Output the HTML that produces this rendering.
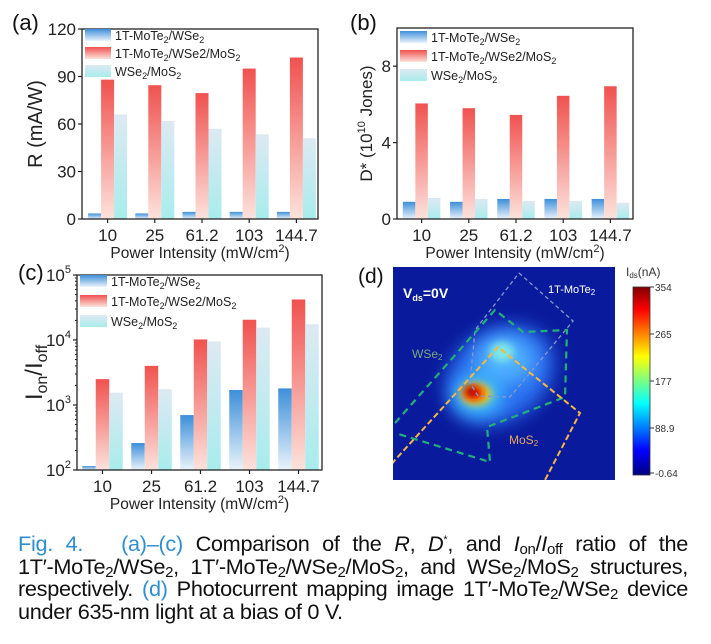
<!DOCTYPE html>
<html><head><meta charset="utf-8"><style>
body{margin:0;background:#fff;width:711px;height:644px;overflow:hidden;font-family:"Liberation Sans",sans-serif}
svg{position:absolute;left:0;top:0}
#cap{position:absolute;left:18px;top:533px;width:670px;font-size:21.7px;line-height:22.6px;color:#111;letter-spacing:-0.3px}
#cap div{text-align:justify;text-align-last:justify;white-space:nowrap;height:22.6px}
#cap div.last{text-align-last:left}
#cap .b{color:#2f8ed0}
#cap sub{font-size:15px;vertical-align:-3px;line-height:0}
</style></head><body>
<svg id="fig" width="711" height="644">
<defs>
<linearGradient id="gBlue" x1="0" y1="0" x2="0" y2="1"><stop offset="0" stop-color="#3d8fd9"/><stop offset="1" stop-color="#eaf3fb"/></linearGradient>
<linearGradient id="gRed" x1="0" y1="0" x2="0" y2="1"><stop offset="0" stop-color="#f0524f"/><stop offset="1" stop-color="#fde2dc"/></linearGradient>
<linearGradient id="gCyan" x1="0" y1="0" x2="0" y2="1"><stop offset="0" stop-color="#dde9f2"/><stop offset="1" stop-color="#a8ecec"/></linearGradient>
<linearGradient id="gCb" x1="0" y1="0" x2="0" y2="1"><stop offset="0" stop-color="#800000"/><stop offset="0.12" stop-color="#ff0000"/><stop offset="0.37" stop-color="#ffff00"/><stop offset="0.62" stop-color="#00ffff"/><stop offset="0.87" stop-color="#0000ff"/><stop offset="1" stop-color="#000080"/></linearGradient>
<filter id="blur" x="-50%" y="-50%" width="200%" height="200%"><feGaussianBlur stdDeviation="9"/></filter>
<filter id="blur2" x="-50%" y="-50%" width="200%" height="200%"><feGaussianBlur stdDeviation="4"/></filter>
<clipPath id="clipD"><rect x="393" y="267" width="222" height="213"/></clipPath>
</defs>
<g id="pa"></g>
<g id="pb"></g>
<g id="pc"></g>
<g id="pd">
<rect x="393" y="267" width="222" height="213" fill="#0a1a9c"/>
<g clip-path="url(#clipD)">
<ellipse cx="500" cy="375" rx="58" ry="45" fill="#2a6ff0" filter="url(#blur)" transform="rotate(-35 500 375)"/>
<ellipse cx="505" cy="360" rx="30" ry="24" fill="#4fb0ff" filter="url(#blur)"/>
<ellipse cx="502" cy="352" rx="12" ry="10" fill="#7fe8e8" filter="url(#blur2)"/>
<ellipse cx="478" cy="395" rx="24" ry="20" fill="#3cc8ff" filter="url(#blur)"/>
<ellipse cx="476" cy="394" rx="15" ry="11" fill="#ffd000" filter="url(#blur2)"/>
<ellipse cx="474" cy="393" rx="10" ry="7" fill="#e81000" filter="url(#blur2)"/>
<ellipse cx="471" cy="391" rx="5" ry="4" fill="#900000" filter="url(#blur2)"/>
<polyline points="519,273 573,321 510,397 478,396 470,383 475,330 519,273" fill="none" stroke="#8899cc" stroke-width="1.3" stroke-dasharray="4,3"/>
<polyline points="395,423 495,310 523,332 567,330 565,397 487,427 490,462 395,433" fill="none" stroke="#22b07a" stroke-width="2.2" stroke-dasharray="7,5"/>
<polyline points="380,478 395,460 498,347 580,413 545,480" fill="none" stroke="#f4b740" stroke-width="2" stroke-dasharray="6,3"/>
</g>
<text x="403" y="298" fill="#fff" font-size="14" font-weight="bold">V<tspan font-size="9" dy="3">ds</tspan><tspan dy="-3">=0V</tspan></text>
<text x="548" y="293" fill="#fff" font-size="11">1T-MoTe<tspan font-size="8" dy="2">2</tspan></text>
<text x="412" y="358" fill="#7aa87a" font-size="12">WSe<tspan font-size="8" dy="2">2</tspan></text>
<text x="509" y="444" fill="#e8a85a" font-size="12">MoS<tspan font-size="8" dy="2">2</tspan></text>
<text x="358" y="283" font-size="21" fill="#111">(d)</text>
<text x="626" y="276" font-size="12" fill="#333">I<tspan font-size="8" dy="2">ds</tspan><tspan dy="-2">(nA)</tspan></text>
<rect x="633" y="287" width="17" height="188" fill="url(#gCb)" stroke="#333" stroke-width="0.8"/>
<g id="cbt" font-size="10" fill="#333"></g>
</g>
</svg>
<div id="cap">
<div><span class="b">Fig. 4.&nbsp;&nbsp; (a)–(c)</span> Comparison of the <i>R</i>, <i>D</i><sup style="font-size:11px;line-height:0">*</sup>, and <i>I</i><sub>on</sub>/<i>I</i><sub>off</sub> ratio of the</div>
<div>1T′-MoTe<sub>2</sub>/WSe<sub>2</sub>, 1T′-MoTe<sub>2</sub>/WSe<sub>2</sub>/MoS<sub>2</sub>, and WSe<sub>2</sub>/MoS<sub>2</sub> structures,</div>
<div>respectively. <span class="b">(d)</span> Photocurrent mapping image 1T′-MoTe<sub>2</sub>/WSe<sub>2</sub> device</div>
<div class="last">under 635-nm light at a bias of 0 V.</div>
</div>
<script>
const categories=["10","25","61.2","103","144.7"];
const rBlue=[3.5,3.5,4.5,4.5,4.5];
const rRed=[88,84.5,79.5,95,102];
const rCyan=[66,62,57,53.5,51];
const rTicks=[0,30,60,90,120];
const dBlue=[0.9,0.9,1.05,1.05,1.05];
const dRed=[6.05,5.8,5.45,6.45,6.95];
const dCyan=[1.1,1.05,0.95,0.95,0.85];
const dTicks=[0,4,8];
const iBlue=[115,260,700,1700,1800];
const iRed=[2500,4000,10200,20500,42000];
const iCyan=[1550,1750,9500,15500,17500];
const iTicks=[2,3,4,5];
const cbTicks=["354","265","177","88.9","-0.64"];
const NS="http://www.w3.org/2000/svg";
function mk(p,t,a,txt){const e=document.createElementNS(NS,t);for(const k in a)e.setAttribute(k,a[k]);if(txt!==undefined)e.innerHTML=txt;p.appendChild(e);return e;}
function panel(g,o){
  const {x0,x1,y0,y1,min,max,log}=o;
  const ys=v=>{const t=log?(Math.log10(v)-min)/(max-min):(v-min)/(max-min);return y1-t*(y1-y0);};
  const step=(x1-x0)/categories.length;
  const xc=i=>x0+step*(i+0.5)+o.shift;
  const series=[[o.b,"url(#gBlue)","blue"],[o.r,"url(#gRed)","red"],[o.c,"url(#gCyan)","cyan"]];
  series.forEach((s,si)=>{s[0].forEach((v,i)=>{const yy=ys(v);
    const r=mk(g,"rect",{x:xc(i)+(si-1.5)*o.bw,y:yy,width:o.bw,height:y1-yy,fill:s[1]});
    
    });});
  const fr=mk(g,"rect",{x:x0,y:y0,width:x1-x0,height:y1-y0,fill:"none",stroke:"#222","stroke-width":1.3});
  
  
  o.ticks.forEach(t=>{const yy=log?ys(Math.pow(10,t)):ys(t);
    mk(g,"line",{x1:x0,x2:x0-4,y1:yy,y2:yy,stroke:"#222","stroke-width":1.2});
    const tx=mk(g,"text",{x:x0-6,y:yy+6,"text-anchor":"end","font-size":o.fs,fill:"#222"},log?'10<tspan font-size="11" dy="-8">'+t+'</tspan>':t);
    
    
    if(log&&t<max){for(let m=2;m<10;m++){const my=ys(m*Math.pow(10,t));mk(g,"line",{x1:x0,x2:x0-2,y1:my,y2:my,stroke:"#222"});}}
  });
  categories.forEach((c,i)=>{mk(g,"line",{x1:xc(i),x2:xc(i),y1:y1,y2:y1+4,stroke:"#222","stroke-width":1.2});
    const t=mk(g,"text",{x:xc(i),y:y1+22,"text-anchor":"middle","font-size":17,fill:"#222"},c);
    
    });
  const xt=mk(g,"text",{x:(x0+x1)/2,y:y1+39,"text-anchor":"middle","font-size":15.5,fill:"#222"},'Power Intensity (mW/cm<tspan font-size="11" dy="-6">2</tspan><tspan dy="6">)</tspan>');
  
  
  const yt=mk(g,"text",{x:0,y:0,"text-anchor":"middle","font-size":o.yfs,fill:"#222",transform:`translate(${o.ytx},${(y0+y1)/2}) rotate(-90)`},o.ytitle);
  
  
  const pl=mk(g,"text",{x:o.lx,y:o.ly,"font-size":22,fill:"#111"},o.label);
  
  
  const names=['1T-MoTe<tspan font-size="9" dy="3">2</tspan><tspan dy="-3">/WSe</tspan><tspan font-size="9" dy="3">2</tspan>','1T-MoTe<tspan font-size="9" dy="3">2</tspan><tspan dy="-3">/WSe2/MoS</tspan><tspan font-size="9" dy="3">2</tspan>','WSe<tspan font-size="9" dy="3">2</tspan><tspan dy="-3">/MoS</tspan><tspan font-size="9" dy="3">2</tspan>'];
  const fills=["url(#gBlue)","url(#gRed)","url(#gCyan)"];
  names.forEach((n,i)=>{const yy=o.legY+i*o.legDy;
    const sw=mk(g,"rect",{x:x0+3,y:yy-7,width:o.legW,height:12,fill:fills[i]});
    
    
    const t=mk(g,"text",{x:x0+o.legW+7,y:yy+4,"font-size":12.5,fill:"#222"},n);
    
    });
}
panel(document.getElementById('pa'),{x0:82,x1:318,y0:29,y1:219,min:0,max:120,log:false,b:rBlue,r:rRed,c:rCyan,ticks:rTicks,bw:13,shift:2,fs:17,yfs:20,ytx:42,ytitle:'R  (mA/W)',lx:12,ly:30,label:'(a)',legY:36,legDy:18,legW:26});
panel(document.getElementById('pb'),{x0:397,x1:633,y0:28,y1:219,min:0,max:10,log:false,b:dBlue,r:dRed,c:dCyan,ticks:dTicks,bw:12.5,shift:1,fs:17,yfs:17,ytx:372,ytitle:'D* (10<tspan font-size="11" dy="-7">10</tspan><tspan dy="7"> Jones)</tspan>',lx:350,ly:30,label:'(b)',legY:38,legDy:19,legW:27});
panel(document.getElementById('pc'),{x0:77,x1:322,y0:275,y1:470,min:2,max:5,log:true,b:iBlue,r:iRed,c:iCyan,ticks:iTicks,bw:13.5,shift:1,fs:17,yfs:24,ytx:42,ytitle:'I<tspan font-size="16" dy="5">on</tspan><tspan dy="-5">/I</tspan><tspan font-size="16" dy="5">off</tspan>',lx:18,ly:280,label:'(c)',legY:282,legDy:20,legW:27});
const cbg=document.getElementById('cbt');
cbTicks.forEach((t,i)=>{const yy=287+i*(188/4)-(i==4?2:0);
  mk(cbg,"line",{x1:650,x2:654,y1:yy,y2:yy,stroke:"#333"});
  const e=mk(cbg,"text",{x:655,y:yy+4},t);
  
  });
</script>
</body></html>
